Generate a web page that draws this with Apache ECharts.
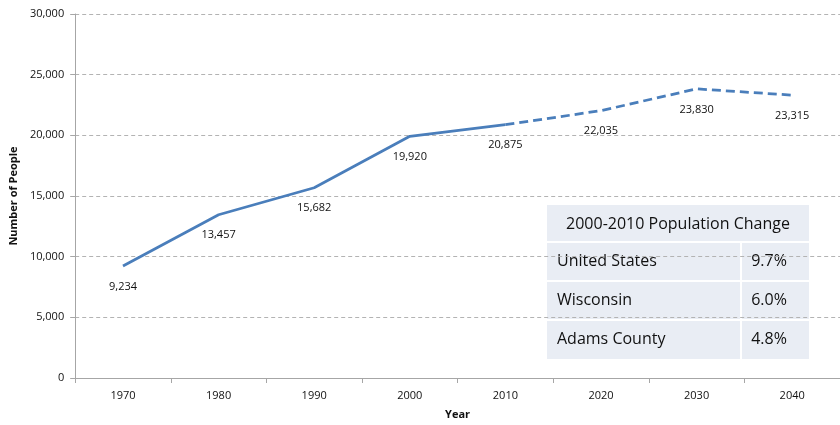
<!DOCTYPE html>
<html>
<head>
<meta charset="utf-8">
<script src="https://cdn.jsdelivr.net/npm/echarts@6/dist/echarts.min.js"></script>
<style>
  html, body { margin: 0; padding: 0; background: #fff; }
  #chart { width: 840px; height: 425px; }
</style>
</head>
<body>
<div id="chart"></div>
<script>
// Adams County population: census counts and projections
const years = ['1970', '1980', '1990', '2000', '2010', '2020', '2030', '2040'];
const censusCounts = [9234, 13457, 15682, 19920, 20875, null, null, null];
const projections = [null, null, null, null, 20875, 22035, 23830, 23315];
const yTicks = [0, 5000, 10000, 15000, 20000, 25000, 30000];

// 2000-2010 population change comparison table
const tableTitle = '2000-2010 Population Change';
const areaNames = ['United States', 'Wisconsin', 'Adams County'];
const areaChange = ['9.7%', '6.0%', '4.8%'];

const FONT = '"Open Sans", "Liberation Sans", sans-serif';
const BLUE = '#4a7ebb';
const fmt = v => v.toLocaleString('en-US');

const chart = echarts.init(document.getElementById('chart'), null, { renderer: 'canvas' });

// Table graphic
const tx = 547, ty = 205, tw = 262, headH = 37, rowH = 39, splitX = 741;
const tableEls = [];
tableEls.push({ type: 'rect', shape: { x: tx, y: ty, width: tw, height: headH + rowH * areaNames.length }, style: { fill: '#e9edf4' } });
tableEls.push({ type: 'text', x: tx + tw / 2, y: ty + headH / 2 + 1, style: { text: tableTitle, font: '16px ' + FONT, fill: '#111', align: 'center', verticalAlign: 'middle' } });
areaNames.forEach((name, i) => {
  const y0 = ty + headH + rowH * i;
  tableEls.push({ type: 'rect', shape: { x: tx, y: y0 - 1, width: tw, height: 2 }, style: { fill: '#ffffff' } });
  tableEls.push({ type: 'rect', shape: { x: splitX - 1, y: y0, width: 2, height: rowH }, style: { fill: '#ffffff' } });
  tableEls.push({ type: 'text', x: tx + 10, y: y0 + rowH / 2, style: { text: name, font: '16px ' + FONT, fill: '#111', align: 'left', verticalAlign: 'middle' } });
  tableEls.push({ type: 'text', x: splitX + 28, y: y0 + rowH / 2, style: { text: areaChange[i], font: '16px ' + FONT, fill: '#111', align: 'center', verticalAlign: 'middle' } });
});

const labelCfg = {
  show: true,
  position: 'bottom',
  distance: 15,
  fontFamily: FONT,
  fontSize: 11,
  color: '#111',
  formatter: p => (p.value == null ? '' : fmt(p.value))
};

chart.setOption({
  animation: false,
  grid: { left: 74, top: 14, width: 770, height: 365, containLabel: false },
  xAxis: {
    type: 'category',
    data: years,
    boundaryGap: true,
    name: 'Year',
    nameLocation: 'middle',
    nameGap: 31,
    nameTextStyle: { fontFamily: FONT, fontSize: 11, fontWeight: 'bold', color: '#111' },
    axisLine: { lineStyle: { color: '#a6a6a6', width: 1 } },
    axisTick: { show: true, length: 5, lineStyle: { color: '#a6a6a6' } },
    axisLabel: { fontFamily: FONT, fontSize: 11, color: '#111', margin: 12 },
    splitLine: { show: false }
  },
  yAxis: {
    type: 'value',
    min: yTicks[0],
    max: yTicks[yTicks.length - 1],
    interval: yTicks[1] - yTicks[0],
    name: 'Number of People',
    nameLocation: 'middle',
    nameGap: 49,
    nameRotate: 90,
    nameTextStyle: { fontFamily: FONT, fontSize: 11, fontWeight: 'bold', color: '#111' },
    axisLine: { show: true, lineStyle: { color: '#a6a6a6', width: 1 } },
    axisTick: { show: true, length: 5, lineStyle: { color: '#a6a6a6' } },
    axisLabel: { fontFamily: FONT, fontSize: 11, color: '#111', margin: 11, formatter: v => fmt(v) },
    splitLine: { show: true, lineStyle: { color: '#b3b3b3', type: [4, 3], width: 1 } }
  },
  series: [
    {
      name: 'Census',
      type: 'line',
      data: censusCounts,
      symbol: 'circle',
      symbolSize: 0.1,
      showSymbol: true,
      connectNulls: false,
      lineStyle: { color: BLUE, width: 2.75 },
      itemStyle: { color: BLUE },
      label: labelCfg,
      z: 3
    },
    {
      name: 'Projection',
      type: 'line',
      data: projections,
      symbol: 'circle',
      symbolSize: 0.1,
      showSymbol: true,
      connectNulls: false,
      lineStyle: { color: BLUE, width: 2.75, type: [9, 5] },
      itemStyle: { color: BLUE },
      label: Object.assign({}, labelCfg, {
        formatter: p => (p.value == null || p.dataIndex === 4 ? '' : fmt(p.value))
      }),
      z: 3
    }
  ],
  graphic: { elements: tableEls }
});
</script>
</body>
</html>
